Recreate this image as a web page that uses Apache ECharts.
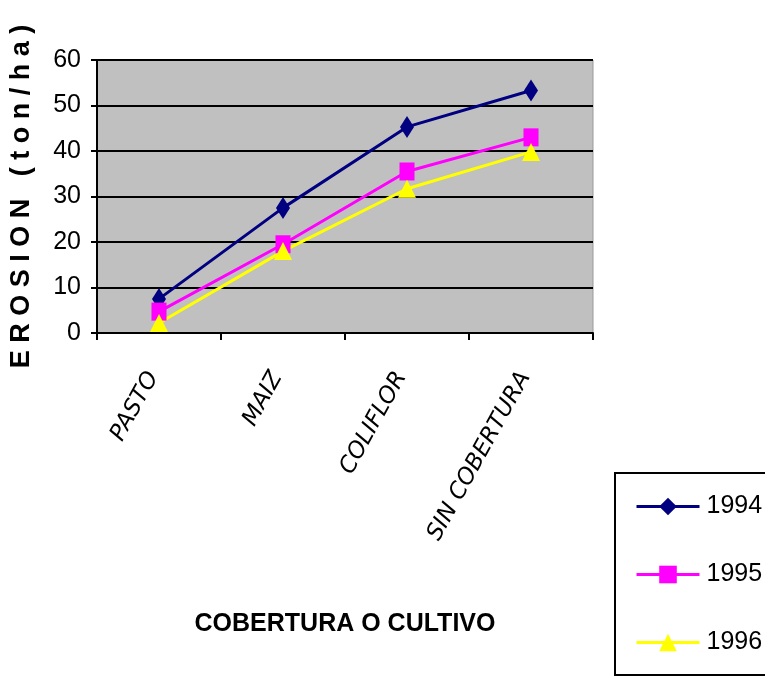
<!DOCTYPE html>
<html>
<head>
<meta charset="utf-8">
<script src="https://cdn.jsdelivr.net/npm/echarts@6/dist/echarts.min.js"></script>
<style>html,body{margin:0;padding:0;background:#fff}#c{width:765px;height:684px}</style>
</head>
<body>
<div id="c"></div>
<script>
const categories = ['PASTO', 'MAIZ', 'COLIFLOR', 'SIN COBERTURA'];
const s1994 = [7.5, 27.5, 45.3, 53.3];
const s1995 = [4.7, 19.5, 35.5, 43];
const s1996 = [2.2, 18, 31.7, 39.8];
const yTicks = [0, 10, 20, 30, 40, 50, 60];
const NARROW = '"Liberation Sans Narrow", "Arial Narrow", "Liberation Sans", Arial, sans-serif';

const chart = echarts.init(document.getElementById('c'));
chart.setOption({
  backgroundColor: '#ffffff',
  animation: false,
  grid: { left: 97, top: 60, width: 496, height: 273, show: true, backgroundColor: '#c0c0c0', borderColor: '#9a9a9a', borderWidth: 1 },
  legend: {
    orient: 'vertical', left: 615, top: 473, height: 205,
    padding: [21, 80, 20, 20],
    borderColor: '#000', borderWidth: 2,
    itemWidth: 63, itemHeight: 22, itemGap: 43,
    lineStyle: { width: 3 },
    textStyle: { fontFamily: NARROW, fontSize: 25, color: '#000', padding: [0, 0, 0, 2] },
    data: ['1994', '1995', '1996']
  },
  xAxis: {
    type: 'category', data: categories, boundaryGap: true,
    axisLine: { lineStyle: { color: '#000', width: 2 } },
    axisTick: { show: true, length: 7, lineStyle: { color: '#000', width: 2 } },
    axisLabel: { rotate: 61, margin: 30, padding: [0, 12, 0, 0], color: '#000', fontFamily: '"DejaVu Sans", sans-serif', fontStyle: 'italic', fontSize: 23 },
    name: 'COBERTURA O CULTIVO', nameLocation: 'middle', nameGap: 279,
    nameTextStyle: { fontFamily: NARROW, fontWeight: 'bold', fontSize: 25, color: '#000' }
  },
  yAxis: {
    type: 'value', min: 0, max: 60, interval: 10,
    axisLine: { show: true, lineStyle: { color: '#000', width: 2 } },
    axisTick: { show: true, length: 6, lineStyle: { color: '#000', width: 2 } },
    axisLabel: { margin: 16, color: '#000', fontFamily: NARROW, fontSize: 25,
      formatter: v => yTicks.includes(v) ? String(v) : '' },
    splitLine: { show: true, lineStyle: { color: '#000', width: 2 } },
    name: 'E R O S I O N   ( t o n / h a )', nameLocation: 'middle', nameGap: 62, nameRotate: 90,
    nameTextStyle: { fontFamily: '"Liberation Sans", Arial, sans-serif', fontWeight: 'bold', fontSize: 27, color: '#000' }
  },
  series: [
    { name: '1994', type: 'line', data: s1994, symbol: 'diamond', symbolSize: [14, 22],
      lineStyle: { color: '#000080', width: 3 }, itemStyle: { color: '#000080' } },
    { name: '1995', type: 'line', data: s1995, symbol: 'rect', symbolSize: [15, 18],
      lineStyle: { color: '#ff00ff', width: 3 }, itemStyle: { color: '#ff00ff' } },
    { name: '1996', type: 'line', data: s1996, symbol: 'triangle', symbolSize: [18, 18],
      lineStyle: { color: '#ffff00', width: 3 }, itemStyle: { color: '#ffff00' } }
  ]
});
</script>
</body>
</html>
